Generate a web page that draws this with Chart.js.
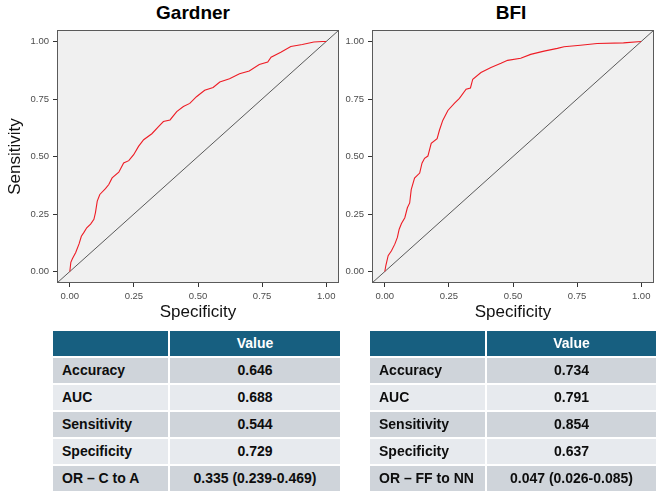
<!DOCTYPE html>
<html>
<head>
<meta charset="utf-8">
<script src="https://cdn.jsdelivr.net/npm/chart.js@4.4.1/dist/chart.umd.min.js"></script>
<style>
  body { margin: 0; background: #fff; width: 665px; height: 499px; overflow: hidden; position: relative;
         font-family: "Liberation Sans", Arial, sans-serif; }
  canvas { position: absolute; top: 0; }
  .title { position: absolute; top: 2px; width: 200px; text-align: center; font-weight: bold;
           font-size: 19px; line-height: 22px; color: #000; }
  .tbl { position: absolute; top: 331px; display: grid; row-gap: 2px; column-gap: 2px; }
  .tbl div { height: 25px; line-height: 25px; font-weight: bold; font-size: 14px; color: #0d0d0d; white-space: nowrap; }
  .tbl .head { background: #175f80; color: #fff; text-align: center; font-size: 14px; }
  .tbl .name { padding-left: 9px; }
  .tbl .val { text-align: center; }
  .tbl .odd { background: #cfd4da; }
  .tbl .even { background: #e7eaee; }
</style>
</head>
<body>
<div class="title" style="left:93px">Gardner</div>
<div class="title" style="left:411px">BFI</div>
<canvas id="gardner" width="345" height="325" style="left:0"></canvas>
<canvas id="bfi" width="325" height="325" style="left:340px"></canvas>
<div class="tbl" id="tblGardner" style="left:53px; grid-template-columns: 115px 170px;"></div>
<div class="tbl" id="tblBfi" style="left:370px; grid-template-columns: 115px 169px;"></div>
<script>
// ROC curves (x = 1 - specificity, y = sensitivity)
const gardnerX = [0, 0.004, 0.01, 0.023, 0.036, 0.045, 0.055, 0.066, 0.081, 0.094, 0.10, 0.107, 0.117, 0.139,
  0.152, 0.165, 0.191, 0.21, 0.23, 0.249, 0.268, 0.288, 0.32, 0.346, 0.365, 0.391, 0.417, 0.443, 0.468, 0.494,
  0.526, 0.559, 0.585, 0.623, 0.662, 0.70, 0.739, 0.772, 0.785, 0.823, 0.862, 0.907, 0.952, 0.985, 1];
const gardnerY = [0, 0.04, 0.055, 0.083, 0.12, 0.153, 0.17, 0.19, 0.206, 0.227, 0.256, 0.306, 0.335, 0.36,
  0.378, 0.407, 0.432, 0.472, 0.482, 0.508, 0.544, 0.573, 0.599, 0.63, 0.652, 0.659, 0.695, 0.717, 0.731, 0.76,
  0.788, 0.80, 0.824, 0.838, 0.86, 0.872, 0.90, 0.911, 0.932, 0.953, 0.978, 0.987, 0.998, 1.0, 1];

const bfiX = [0, 0.004, 0.013, 0.026, 0.039, 0.049, 0.056, 0.065, 0.078, 0.088, 0.097, 0.103, 0.116, 0.136,
  0.145, 0.155, 0.168, 0.181, 0.204, 0.213, 0.226, 0.246, 0.272, 0.291, 0.317, 0.334, 0.343, 0.375, 0.414,
  0.453, 0.479, 0.53, 0.569, 0.621, 0.673, 0.699, 0.763, 0.828, 0.931, 1];
const bfiY = [0, 0.026, 0.069, 0.09, 0.119, 0.148, 0.184, 0.209, 0.234, 0.277, 0.298, 0.356, 0.406, 0.428,
  0.471, 0.492, 0.502, 0.557, 0.578, 0.614, 0.657, 0.70, 0.732, 0.753, 0.793, 0.798, 0.836, 0.865, 0.887,
  0.905, 0.918, 0.927, 0.944, 0.958, 0.97, 0.977, 0.984, 0.991, 0.994, 1];

// chance line, drawn corner to corner
const diagonal = [-0.05, 1.05];

const tickValues = [0, 0.25, 0.5, 0.75, 1];

// table contents
const metricNames = ['Accuracy', 'AUC', 'Sensitivity', 'Specificity'];
const gardnerMetrics = ['0.646', '0.688', '0.544', '0.729'];
const bfiMetrics = ['0.734', '0.791', '0.854', '0.637'];
const gardnerOR = ['OR \u2013 C to A', '0.335 (0.239-0.469)'];
const bfiOR = ['OR \u2013 FF to NN', '0.047 (0.026-0.085)'];

Chart.defaults.font.family = '"Liberation Sans", Arial, sans-serif';

const panelPlugin = {
  id: 'panel',
  beforeDraw(chart) {
    const { ctx, chartArea: a } = chart;
    ctx.save();
    ctx.fillStyle = '#f0f0f0';
    ctx.fillRect(a.left, a.top, a.right - a.left, a.bottom - a.top);
    ctx.restore();
  },
  afterDraw(chart) {
    const { ctx, chartArea: a } = chart;
    ctx.save();
    ctx.strokeStyle = '#5a5a5a';
    ctx.lineWidth = 1;
    ctx.strokeRect(Math.round(a.left) + 0.5, Math.round(a.top) + 0.5,
      Math.round(a.right - a.left) - 1, Math.round(a.bottom - a.top) - 1);
    ctx.restore();
  }
};

function points(xs, ys) {
  return xs.map((x, i) => ({ x: x, y: ys[i] }));
}

function axis(extra) {
  return Object.assign({
    type: 'linear',
    min: -0.05,
    max: 1.05,
    border: { display: false },
    grid: { drawOnChartArea: false, drawTicks: true, tickLength: 4, color: '#333' },
    ticks: {
      autoSkip: false, maxRotation: 0, padding: 4, color: '#4d4d4d',
      font: { size: 9.5 },
      callback: v => v.toFixed(2)
    },
    afterBuildTicks: s => { s.ticks = tickValues.map(v => ({ value: v })); }
  }, extra);
}

function makeRoc(id, xs, ys, yWidth, rightPad, showYTitle) {
  new Chart(document.getElementById(id), {
    type: 'scatter',
    data: {
      datasets: [
        {
          data: points(xs, ys), showLine: true, borderColor: '#ee1c25', borderWidth: 1.1,
          pointRadius: 0, tension: 0
        },
        {
          data: points(diagonal, diagonal), showLine: true, borderColor: '#333', borderWidth: 0.8,
          pointRadius: 0
        }
      ]
    },
    options: {
      responsive: false,
      animation: false,
      layout: { padding: { top: 30, right: rightPad, left: 0, bottom: 0 } },
      plugins: { legend: { display: false }, tooltip: { enabled: false } },
      scales: {
        x: axis({
          position: 'bottom',
          title: { display: true, text: 'Specificity', color: '#111', font: { size: 17 }, padding: { top: 0, bottom: 2 } },
          afterFit: s => { s.height = 42; }
        }),
        y: axis({
          position: 'left',
          title: { display: showYTitle, text: 'Sensitivity', color: '#111', font: { size: 17 }, padding: { top: 5, bottom: 0 } },
          afterFit: s => { s.width = yWidth; }
        })
      }
    },
    plugins: [panelPlugin]
  });
}

makeRoc('gardner', gardnerX, gardnerY, 57, 6, true);
makeRoc('bfi', bfiX, bfiY, 32, 11, false);

function buildTable(id, values, orRow) {
  const el = document.getElementById(id);
  const cells = [];
  cells.push('<div class="head"></div><div class="head">Value</div>');
  metricNames.forEach((name, i) => {
    const cls = i % 2 === 0 ? 'odd' : 'even';
    cells.push('<div class="name ' + cls + '">' + name + '</div><div class="val ' + cls + '">' + values[i] + '</div>');
  });
  const cls = metricNames.length % 2 === 0 ? 'odd' : 'even';
  cells.push('<div class="name ' + cls + '">' + orRow[0] + '</div><div class="val ' + cls + '">' + orRow[1] + '</div>');
  el.innerHTML = cells.join('');
}

buildTable('tblGardner', gardnerMetrics, gardnerOR);
buildTable('tblBfi', bfiMetrics, bfiOR);
</script>
</body>
</html>
